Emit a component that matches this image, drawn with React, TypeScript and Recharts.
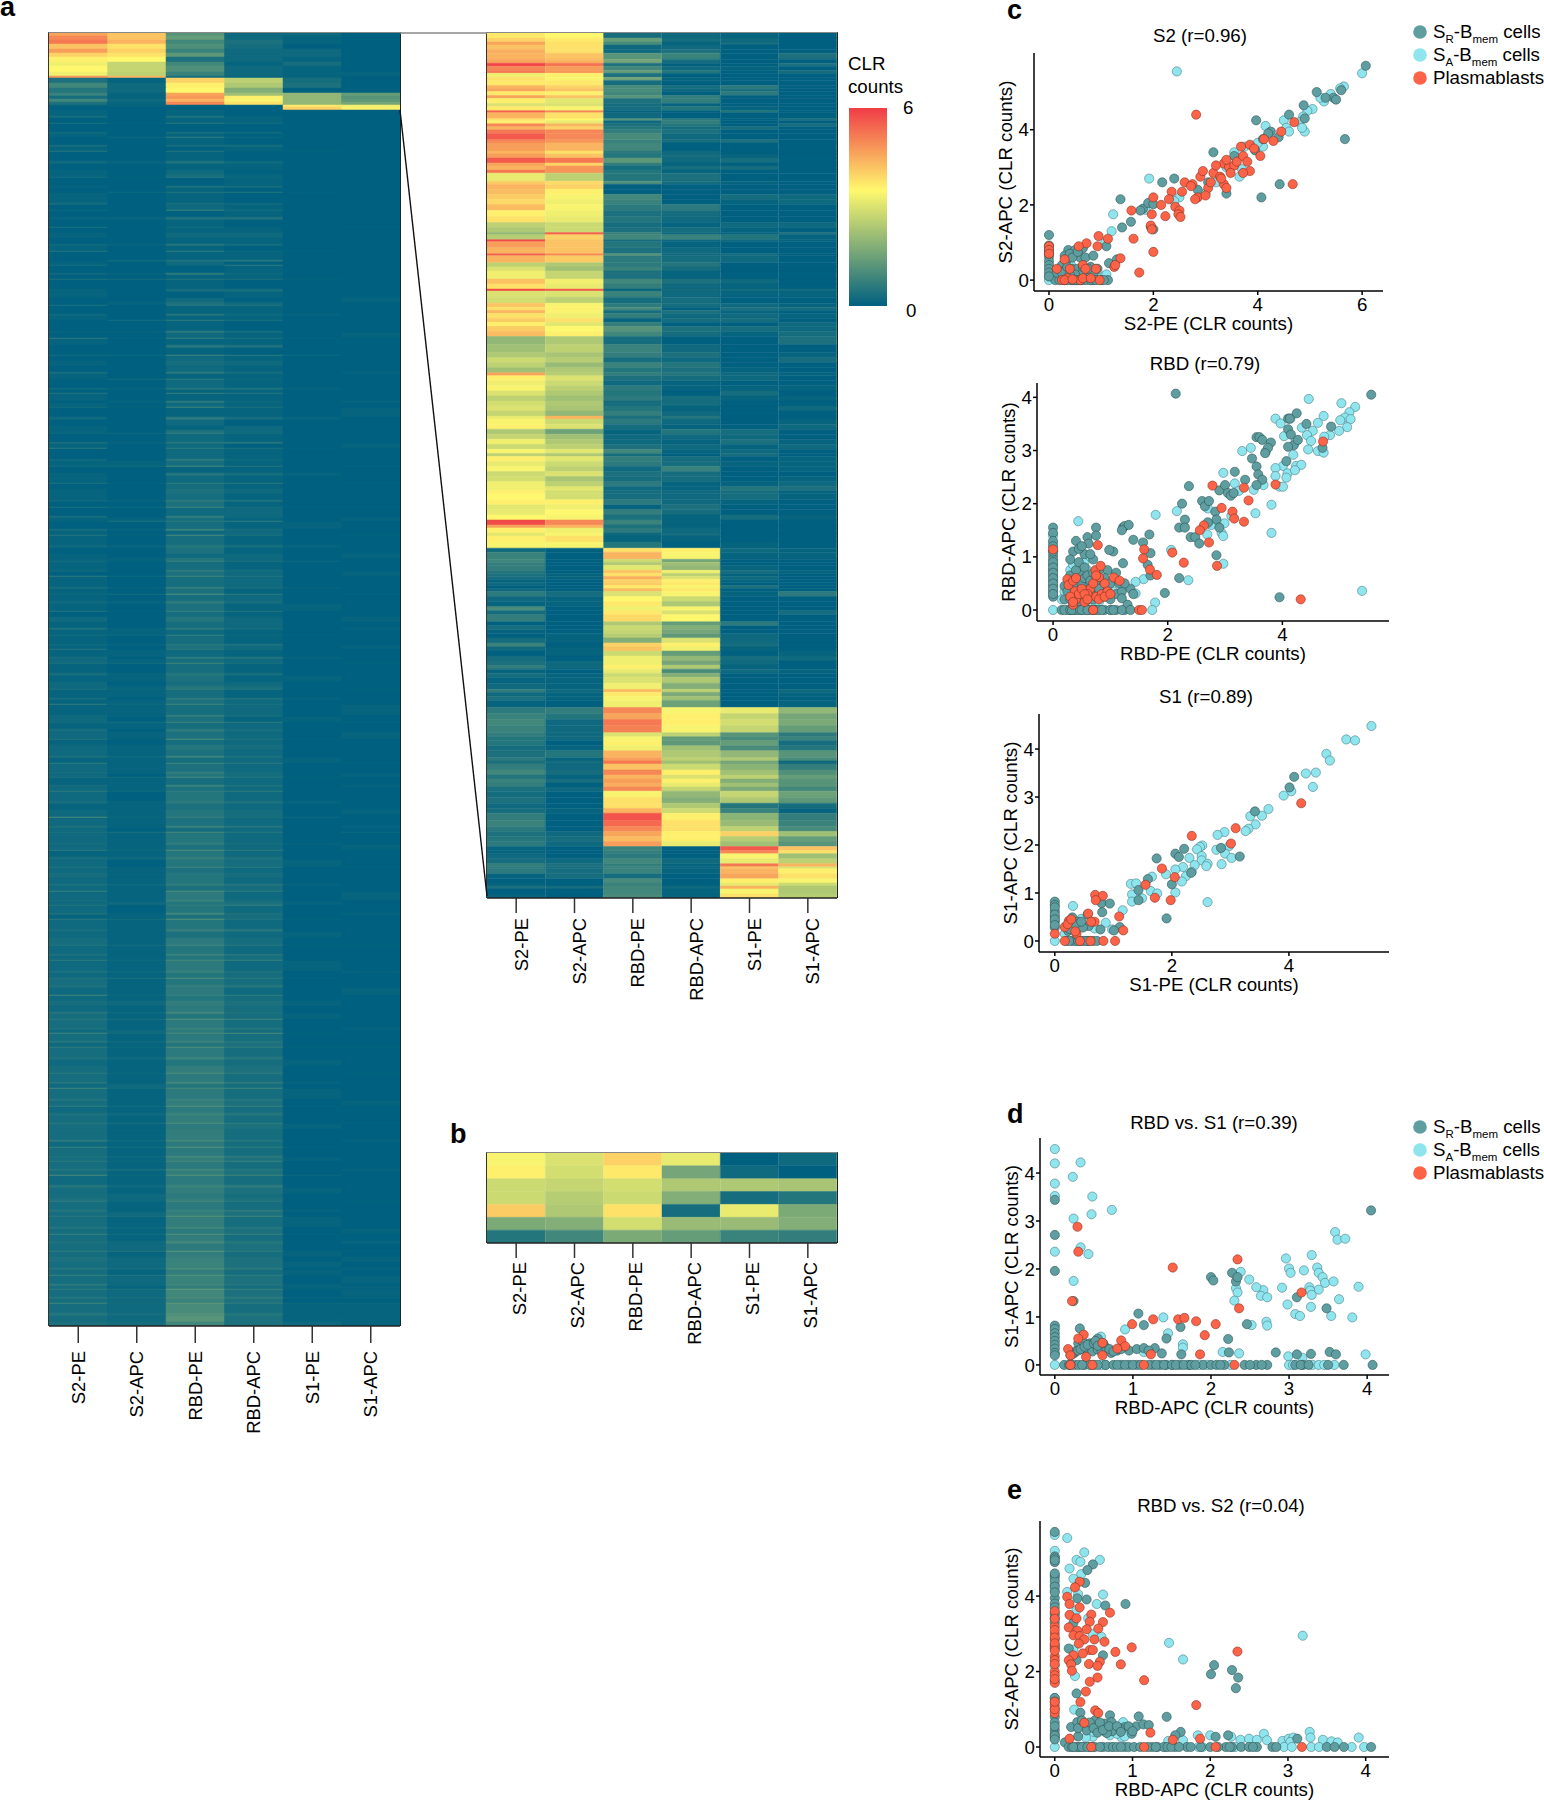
import React from "react";
import { BarChart, Bar, Cell, XAxis, YAxis, ScatterChart, Scatter } from "recharts";

type Pt = number[];
const FONT = '"Liberation Sans", Arial, sans-serif';
const FS = 18.7;

const antigens = ["S2-PE", "S2-APC", "RBD-PE", "RBD-APC", "S1-PE", "S1-APC"];

// Heatmap rows: [cells in the band, then CLR x10 for each antigen]
const mainTopRows: Pt[] = [
  [3,46,42,12,2,2,0],[4,50,42,14,2,1,0],[4,52,44,9,4,1,0],[5,42,38,11,3,0,0],[4,47,40,8,2,2,0],[4,40,38,13,2,2,0],[5,36,35,4,2,1,0],[4,33,27,9,1,3,0],[6,35,27,11,2,1,0],[4,33,26,8,2,1,1],[2,48,44,3,1,1,0],
  [5,4,1,40,26,3,0],[5,9,2,36,24,4,0],[5,5,2,35,18,0,0],
  [3,8,1,46,22,20,14],[3,3,1,48,36,20,12],[3,9,2,44,34,20,13],[3,4,1,50,38,20,16],
  [2,1,1,1,1,37,33],[3,0,0,0,0,40,36],
];
const mainBodyRows: Pt[] = [
  [6,1,0,1,0,0,0],[2,3,0,4,1,0,0],[5,0,0,1,1,0,0],[1,4,1,6,3,0,0],[8,0,0,0,0,0,0],[2,2,0,3,2,0,0],[3,1,0,1,0,0,0],[1,0,2,7,2,0,0],[7,0,0,1,0,0,0],[2,3,0,3,3,0,0],[4,1,0,0,1,0,0],[1,5,0,5,1,1,0],[9,0,0,1,0,0,0],[3,2,1,4,2,0,0],[6,0,0,1,1,0,0],[4,1,0,2,0,0,0],
  [3,1,0,3,1,0,0],[1,3,1,6,2,0,0],[8,0,0,0,1,0,0],[2,1,0,4,3,0,0],[4,0,0,1,0,0,0],[1,0,2,5,5,1,0],[10,1,0,1,0,0,0],[2,3,0,3,2,0,0],[5,0,0,2,1,0,0],[1,2,0,8,3,0,0],[6,0,0,0,1,0,0],[3,1,1,4,4,0,0],[7,0,0,1,0,0,0],[1,4,0,3,1,0,1],[5,0,0,1,1,0,0],[5,1,0,2,2,0,0],
  [6,0,0,1,1,0,0],[2,2,1,5,3,0,0],[5,1,0,1,0,0,0],[1,5,0,7,2,1,0],[8,0,0,1,1,0,0],[2,0,2,4,5,0,0],[3,1,0,2,0,0,0],[1,3,0,2,6,0,0],[7,0,0,0,1,0,0],[2,2,1,6,2,0,0],[4,0,0,1,1,0,0],[1,4,3,5,4,1,0],[9,0,0,1,0,0,0],[3,1,0,3,3,0,0],[6,1,0,0,1,0,0],[4,0,0,2,0,0,1],
  [3,0,1,4,2,0,0],[1,4,0,6,5,0,0],[8,0,0,1,1,0,0],[2,2,0,5,2,1,0],[4,1,0,1,1,0,0],[1,0,3,7,4,0,0],[10,0,0,1,0,0,0],[2,1,1,6,3,0,0],[5,0,0,2,1,0,1],[1,6,1,8,4,1,0],[6,1,0,1,1,0,0],[3,0,0,5,4,0,0],[7,0,0,1,0,0,0],[1,3,2,9,6,2,0],[5,0,0,2,1,0,0],[5,1,0,3,2,0,0],
  [6,0,0,2,1,0,0],[2,3,0,6,3,0,1],[5,1,0,1,1,0,0],[1,1,3,7,2,0,0],[8,0,0,2,1,0,0],[2,2,1,5,4,1,0],[3,0,0,1,1,0,0],[1,5,0,8,5,0,0],[7,1,0,1,1,0,0],[2,0,1,6,2,0,1],[4,1,0,2,1,0,0],[1,3,1,9,4,0,0],[9,0,0,1,1,0,1],[3,2,0,6,3,1,0],[6,0,0,2,0,0,0],[4,1,0,1,2,0,0],
  [3,1,0,4,2,0,0],[1,2,2,8,3,0,0],[8,0,0,2,1,0,0],[2,3,1,5,5,0,0],[4,1,0,2,0,0,1],[1,6,0,7,4,1,0],[10,0,0,2,1,0,0],[2,2,0,6,2,0,0],[5,1,1,3,1,0,0],[1,3,3,10,5,0,1],[6,0,0,1,1,0,0],[3,1,0,5,3,1,0],[7,1,0,2,1,0,0],[1,4,1,7,6,0,1],[5,0,0,3,1,0,0],[5,1,0,4,2,0,0],
  [6,1,0,3,1,0,0],[2,2,1,6,4,0,0],[5,0,0,4,1,0,0],[1,4,2,9,3,1,1],[8,0,0,2,2,0,0],[2,3,0,7,2,0,0],[3,1,1,3,1,0,1],[1,1,4,6,7,0,0],[7,0,0,3,1,1,0],[2,3,1,8,3,0,0],[4,1,0,2,2,0,0],[1,5,1,10,4,0,1],[9,1,0,3,1,0,0],[3,2,1,5,3,1,0],[6,0,0,4,1,0,0],[4,1,0,2,2,0,1],
  [3,1,1,5,2,0,0],[1,3,1,8,4,2,0],[8,1,0,3,1,0,0],[2,2,0,6,3,0,0],[4,0,0,4,2,0,1],[1,6,2,9,5,0,0],[10,1,0,3,2,0,0],[2,3,1,7,3,1,0],[5,1,0,4,1,0,0],[1,2,3,11,6,0,1],[6,1,0,3,2,0,0],[3,2,1,6,3,0,0],[7,1,0,4,1,1,0],[1,5,1,8,5,0,0],[5,0,0,3,1,0,0],[5,2,0,5,2,0,1],
  [6,1,0,3,2,0,0],[2,4,1,6,3,0,1],[5,1,1,2,1,0,0],[1,3,2,8,2,1,0],[8,1,0,3,1,0,0],[2,2,1,5,4,0,0],[3,1,0,4,2,0,1],[1,5,0,7,3,0,0],[7,1,1,2,1,0,0],[2,3,0,6,5,1,0],[4,2,1,3,2,0,0],[1,4,3,9,4,0,1],[9,1,0,3,1,0,0],[3,3,1,5,3,0,0],[6,1,1,4,1,1,0],[4,2,0,3,2,0,0],
  [3,2,1,5,3,0,0],[1,4,2,7,5,0,1],[8,1,1,3,1,0,0],[2,3,0,6,4,1,0],[4,1,1,4,2,0,0],[1,7,2,9,4,0,0],[10,1,1,3,2,0,1],[2,2,1,7,3,0,0],[5,2,0,4,1,1,0],[1,3,3,9,6,0,1],[6,1,1,3,2,0,0],[3,3,0,6,3,0,0],[7,2,1,4,2,0,1],[1,5,1,11,5,1,0],[5,1,0,3,2,0,0],[5,2,1,5,3,0,0],
  [6,2,1,4,2,0,0],[2,4,2,8,4,0,0],[5,1,1,3,2,1,0],[1,7,1,9,6,0,1],[8,2,1,4,2,0,0],[2,3,1,7,3,0,0],[3,2,0,5,3,0,1],[1,4,3,10,5,1,0],[7,1,1,3,2,0,0],[2,3,1,8,4,0,1],[4,2,1,4,2,0,0],[1,6,2,7,7,0,0],[9,2,0,5,2,0,0],[3,3,1,6,4,1,0],[6,1,1,4,2,0,0],[4,2,1,5,3,0,1],
  [3,2,1,5,3,0,0],[1,10,2,8,4,2,0],[8,2,1,4,2,0,0],[2,4,1,8,5,0,1],[4,2,0,3,2,0,0],[1,4,4,10,6,0,2],[10,2,1,5,2,0,0],[2,3,1,7,3,1,0],[5,2,1,4,2,0,1],[1,6,2,11,7,0,0],[6,1,1,5,2,0,0],[3,3,2,7,4,0,0],[7,2,0,5,3,1,0],[1,5,1,9,6,0,1],[5,2,1,4,2,0,0],[5,3,1,5,3,0,0],
  [6,2,1,5,2,0,0],[2,4,2,7,5,1,0],[5,2,1,4,3,0,0],[1,8,1,11,7,0,0],[8,2,1,6,2,0,1],[2,3,1,8,3,0,0],[3,2,2,5,4,1,0],[1,5,1,7,8,0,0],[7,2,0,5,2,0,0],[2,4,1,9,4,0,1],[4,1,1,4,3,0,0],[1,6,3,12,5,1,0],[9,2,1,5,2,0,0],[3,3,1,7,5,0,0],[6,2,1,4,2,1,0],[4,3,1,6,3,0,0],
  [3,3,1,6,3,0,0],[1,5,3,9,6,1,1],[8,2,1,5,2,0,0],[2,4,1,8,5,0,0],[4,2,1,5,3,0,0],[1,7,2,10,8,0,0],[10,2,1,6,2,1,0],[2,4,2,8,4,0,1],[5,2,1,5,3,0,0],[1,5,4,11,6,1,0],[6,3,1,5,3,0,0],[3,4,1,7,5,0,0],[7,2,1,6,2,0,1],[1,9,2,8,7,0,0],[5,2,1,5,3,0,0],[5,3,2,7,4,1,0],
  [6,2,1,6,3,0,0],[2,5,2,9,4,0,0],[5,3,1,5,3,1,0],[1,6,4,12,9,0,0],[8,3,1,6,3,0,0],[2,4,1,8,5,0,1],[3,2,2,6,3,0,0],[1,9,3,10,10,1,0],[7,3,1,6,3,0,0],[2,5,2,8,5,0,0],[4,2,1,5,4,0,0],[1,7,2,11,7,1,1],[9,3,1,6,3,0,0],[3,4,2,8,5,0,0],[6,2,1,5,3,1,0],[4,3,1,7,4,0,0],
  [3,3,1,7,4,0,0],[1,6,2,11,7,0,1],[8,3,1,6,3,0,0],[2,5,1,9,6,1,0],[4,2,2,5,3,0,0],[1,9,3,10,9,0,0],[10,3,1,6,3,1,0],[2,5,1,8,5,0,0],[5,3,1,7,4,0,1],[1,7,3,12,8,1,0],[6,2,1,6,3,0,0],[3,4,2,8,5,0,0],[7,3,1,7,3,0,0],[1,6,4,11,7,0,1],[5,3,1,6,4,1,0],[5,3,1,7,3,0,0],
  [6,3,1,7,3,0,0],[2,6,2,9,5,0,1],[5,2,1,6,3,0,0],[1,8,3,12,7,1,0],[8,3,1,6,3,0,0],[2,4,2,9,6,0,0],[3,3,1,7,4,1,0],[1,6,2,10,8,0,0],[7,3,1,6,3,0,0],[2,5,3,9,5,0,1],[4,3,1,7,4,0,0],[1,10,2,12,9,2,0],[9,2,1,6,3,0,0],[3,5,2,8,6,0,0],[6,3,1,7,4,1,0],[4,3,2,6,3,0,0],
  [3,4,2,7,4,0,0],[1,7,2,10,6,0,1],[8,3,1,6,3,0,0],[2,5,1,8,6,1,0],[4,3,2,7,4,0,0],[1,6,4,12,9,0,0],[10,3,1,7,3,1,0],[2,5,2,9,5,0,0],[5,3,1,6,4,0,1],[1,8,3,11,8,1,0],[6,3,1,7,3,0,0],[3,4,2,9,5,0,1],[7,3,2,6,4,0,0],[1,7,5,13,7,1,1],[5,3,1,7,3,1,0],[5,4,2,8,4,0,1],
  [6,3,2,8,4,1,0],[2,5,3,10,6,0,1],[5,3,1,7,3,1,0],[1,8,5,12,7,1,0],[8,3,2,8,4,0,1],[2,6,2,9,5,1,0],[3,3,1,7,3,1,1],[1,7,4,14,8,1,0],[7,3,2,9,4,0,1],[2,5,3,10,6,1,1],[4,3,2,8,4,0,0],[1,9,3,13,7,2,2],[9,3,2,10,3,1,1],[3,5,3,11,5,1,1],[6,3,2,12,4,1,1],[4,4,3,9,4,2,1],
];
const insetRows: Pt[] = [
  [5,37,35,3,2,1,0],[4,40,37,14,3,2,0],[3,46,38,10,1,3,0],[4,42,38,2,2,0,0],[4,45,38,2,4,0,0],[6,44,42,12,8,0,4],[4,46,44,16,3,0,0],[3,59,53,4,0,0,4],[4,50,47,9,2,1,0],[3,52,48,14,5,0,3],
  [4,33,36,4,0,0,0],[3,38,34,16,1,0,0],[5,37,37,3,0,0,0],[3,44,40,10,3,6,0],[3,46,42,10,2,4,0],[4,37,36,9,0,6,0],[3,46,42,12,7,0,0],[5,36,31,4,7,0,0],[3,30,30,3,1,0,0],[4,37,34,3,5,1,0],
  [2,55,50,1,0,5,0],[6,44,38,2,0,0,0],[2,38,35,12,6,0,4],[3,36,32,2,7,0,0],[3,50,44,4,5,0,3],[3,44,40,5,3,3,0],[4,52,50,7,4,0,0],[6,56,50,10,2,0,0],[3,50,48,8,3,4,0],[8,47,44,9,0,0,0],
  [3,44,38,6,2,0,0],[4,47,42,5,3,1,0],[5,56,52,13,2,3,0],[3,46,40,7,1,0,0],[4,44,48,3,3,3,0],[3,52,48,5,1,0,0],[8,32,26,5,4,0,0],[3,41,39,11,3,1,0],[5,44,40,0,0,0,0],[5,43,36,0,0,0,0],
  [5,41,34,9,0,3,2],[5,39,33,8,0,1,2],[6,43,34,6,6,0,0],[6,36,33,4,3,0,0],[6,38,32,5,2,0,0],[5,26,28,3,1,2,2],[5,24,28,4,3,1,0],[2,20,55,8,2,1,4],[5,25,40,9,8,5,1],[2,58,42,3,2,2,1],
  [6,47,42,5,1,0,0],[6,44,42,4,2,0,0],[2,55,50,12,2,3,0],[7,44,41,6,3,2,0],[4,26,24,6,5,0,0],[4,30,22,8,3,0,0],[8,33,27,4,1,0,0],[5,42,33,9,4,2,0],[5,38,32,7,2,1,0],[2,58,56,1,3,3,3],
  [6,30,30,8,2,1,1],[6,29,26,3,3,0,0],[4,42,34,6,3,2,1],[3,38,36,10,0,4,3],[3,44,34,3,4,1,0],[5,38,33,7,2,2,1],[4,41,38,1,3,3,0],[4,36,31,7,0,0,2],[5,41,35,12,4,3,2],[5,43,36,9,3,1,3],
  [8,20,24,3,0,0,4],[8,22,26,8,2,0,0],[5,24,23,7,4,0,1],[5,28,25,3,2,0,3],[5,26,21,8,5,0,0],[5,22,24,5,4,1,0],[3,46,25,7,5,2,1],[5,36,30,4,3,2,0],[5,33,28,2,1,0,0],[5,34,26,6,1,1,1],
  [5,30,24,5,0,3,0],[5,26,22,6,3,1,1],[5,29,24,3,3,0,0],[5,30,23,5,1,0,2],[5,27,20,7,2,0,0],[3,32,44,4,5,0,0],[5,34,28,6,2,0,1],[5,36,30,3,1,0,2],[5,24,15,1,5,3,0],[5,27,22,2,2,2,0],
  [5,33,24,2,1,4,1],[5,28,26,4,2,1,2],[4,34,31,9,1,2,0],[3,26,24,3,0,3,0],[5,36,31,7,3,0,1],[5,32,28,6,3,1,1],[5,34,26,2,8,0,1],[5,28,30,4,3,0,0],[5,29,23,3,3,0,1],[5,33,26,6,1,1,2],
  [4,33,31,2,1,5,4],[3,36,29,3,2,3,1],[6,35,29,3,2,3,1],[5,36,36,6,2,1,0],[5,31,33,1,4,0,0],[5,32,35,7,3,0,0],[5,35,34,4,1,3,1],[5,58,50,8,1,0,0],[3,46,44,4,1,0,0],[5,36,33,6,2,0,0],[3,31,34,2,3,0,0],[6,36,38,1,1,0,0],[6,34,34,5,0,1,0],
  [4,2,0,38,36,2,1],[7,8,0,44,34,1,1],[3,9,0,28,16,0,0],[3,7,0,24,22,0,0],[5,7,0,31,20,1,0],[3,5,0,42,33,3,1],[3,4,1,38,26,1,0],[3,3,1,45,30,2,0],[3,1,0,40,36,1,0],[3,2,0,41,37,0,0],
  [3,0,0,37,34,4,0],[3,2,0,43,37,0,0],[5,6,3,30,34,1,6],[5,2,1,35,28,0,0],[5,1,1,37,24,0,0],[4,10,0,33,34,0,0],[4,3,0,37,30,0,3],[7,7,0,39,35,0,0],[4,0,0,24,14,6,0],[4,3,0,28,18,0,0],
  [4,1,0,27,16,0,0],[4,0,1,25,13,2,0],[5,3,1,18,30,2,0],[4,8,0,40,36,3,0],[4,2,1,42,33,1,0],[5,0,1,28,14,0,1],[5,3,0,33,20,3,2],[4,4,2,33,16,2,0],[4,7,2,36,24,1,0],[4,1,0,32,10,2,1],
  [4,3,1,28,18,0,0],[6,1,1,30,24,0,0],[6,2,1,33,18,0,0],[3,7,2,43,26,0,2],[4,2,1,37,17,0,1],[4,4,1,34,22,0,0],[7,1,0,33,15,0,1],
  [6,6,7,50,34,32,20],[6,8,5,46,36,27,16],[6,9,2,52,36,29,17],[7,8,2,51,34,27,14],[4,7,2,30,26,12,6],[4,5,2,34,14,10,8],[5,5,0,36,13,14,3],[5,3,1,33,22,10,5],[7,4,5,44,24,20,12],[3,6,1,47,26,24,10],
  [3,4,3,52,22,16,2],[6,7,2,42,28,19,7],[5,9,3,50,36,22,11],[4,5,1,44,30,26,14],[4,8,3,47,36,18,12],[4,7,0,45,32,22,12],[4,4,2,50,27,17,9],[6,3,0,34,20,27,15],[6,4,0,38,18,24,13],[5,2,0,38,24,5,3],
  [5,3,1,44,28,8,1],[7,7,0,57,36,19,7],[6,8,0,54,38,21,8],[5,6,0,50,38,26,10],[5,4,2,46,36,40,22],[5,5,3,43,36,25,14],[5,6,2,47,32,22,12],
  [4,1,0,8,0,56,42],[3,1,0,7,0,50,38],[5,2,0,6,0,34,22],[5,3,2,9,2,32,26],[3,7,4,7,1,52,44],[2,6,3,8,1,42,30],[5,6,3,8,1,44,36],[5,1,3,3,0,46,38],[4,0,0,10,0,36,34],[3,1,0,8,0,32,28],[3,4,3,9,2,44,24],[5,0,0,9,1,34,24],[4,1,0,10,1,38,25],
];
const clusterRows: Pt[] = [
  [1,34,30,40,32,0,2],[1,36,29,37,16,2,0],[1,28,27,29,24,24,23],[1,28,25,28,18,3,5],[1,41,24,38,3,32,17],[1,17,18,29,21,21,18],[1,5,9,17,14,8,7],
];

// Scatter values per panel and population: [x, y]
const c1SR: Pt[] = [[6.07,5.7],[5.67,3.75],[5.13,5],[5.45,4.85],[5.5,4.8],[5.6,5.05],[5.3,4.85],[4.88,4.65],[4.9,4.3],[4.6,4.4],[3.97,4.25],[4.25,3.95],[4.2,3.9],[4.4,3.8],[4.1,3.75],[3.15,3.4],[3.55,3.3],[3.95,3.45],[2.4,2.7],[2.17,2.6],[3.05,2.6],[2.85,2.4],[3.4,2.3],[4.07,2.2],[4.42,2.55],[1.37,2.15],[1.8,1.9],[1.9,2.05],[1.75,1.85],[2,2.02],[1.57,1.55],[1.4,1.4],[2,1.35],[1.95,1.42],[1.1,.9],[0,1.2],[0,.92],[0,.8],[0,.62],[0,.5],[0,.4],[0,.3],[0,.2],[.37,.8],[.3,.65],[.35,.55],[.5,.8],[.65,.85],[.6,.6],[.7,.6],[.85,.65],[.25,.4],[.45,.3],[.3,.25],[.55,.3],[.8,.35],[.93,.3],[.65,.2],[.85,.15],[1.15,.45],[1.3,.55],[.5,.15],[.2,.1],[.12,0],[.2,0],[.3,0],[.42,0],[.45,0],[.55,0],[.65,0],[.72,0],[.85,0],[1,0],[1.13,0],[.15,.2],[.25,.2],[.35,.35],[.4,.7],[.45,.6],[.55,.75],[.4,.15],[.65,.35],[.75,.3],[.35,0],[.5,0],[.6,0],[.8,0],[.9,0],[1.05,0],[0,.7],[0,.1]];
const c1SA: Pt[] = [[6,5.5],[5.65,5.15],[5.58,5.1],[5.4,4.95],[5.27,4.75],[5.2,4.85],[5.05,4.55],[4.95,4.5],[4.87,4.35],[4.8,4.2],[4.9,3.95],[4.85,4.05],[4.5,4.25],[4.55,4.05],[4.6,3.95],[4.15,4.1],[4.1,3.55],[4,3.65],[3.75,3.55],[3.55,3.4],[3.7,2.95],[3.65,2.75],[3.4,3],[3.2,2.6],[2.45,5.55],[1.92,2.7],[1.23,1.75],[1.2,1.3],[1.08,1],[1.85,1.87],[2.5,2.2],[2.4,2.1],[3,2.3],[.65,.3],[.42,.4],[.55,.2],[.75,.15],[1.05,.1],[0,0],[.3,0],[.5,0],[.8,0],[1.1,.15],[.35,.15],[.9,.1],[.2,.05],[.45,.1],[.6,.1],[.7,.05],[.85,.05],[0,.1],[.4,.05]];
const c1PB: Pt[] = [[2.82,4.4],[4.67,2.55],[2,2.2],[2.15,2],[1.97,1.75],[2.23,1.7],[1.58,1.85],[2.35,2.35],[2.3,2.15],[2.42,1.95],[2.5,1.85],[2.48,1.75],[2.52,1.68],[1.62,1.1],[2,.75],[1.73,.2],[1.95,1.45],[1.97,1.35],[.95,1.17],[1.13,1.1],[.93,.9],[.72,.98],[.57,.9],[1.37,.58],[1.25,.35],[1.27,.4],[2.6,2.6],[2.55,2.35],[2.75,2.55],[2.85,2.2],[2.8,2.15],[2.9,2.75],[2.95,2.9],[3.05,2.45],[3,2.25],[3.1,2.6],[3.15,2.85],[3.28,2.75],[3.35,2.55],[3.4,2.45],[3.3,2.7],[3.35,3.1],[3.45,3],[3.55,3.05],[3.48,2.85],[3.6,3.15],[3.72,3.3],[3.8,3.15],[3.85,2.9],[3.72,2.85],[3.68,3.55],[3.85,3.6],[3.93,3.5],[4.05,3.3],[4.12,3.75],[4.3,3.7],[4.45,3.95],[4.7,4.2],[2.72,2.5],[3.2,3.05],[3.4,3.2],[0,.9],[0,.8],[0,.7],[.15,.3],[.25,0],[.35,.05],[.6,0],[.65,.05],[.97,0],[.65,.4],[.9,.3],[.3,.55],[.4,.3],[.3,0],[.45,.02],[.7,.3],[.8,.05]];

const c2SR: Pt[] = [[2.14,4.07],[5.55,4.05],[4.25,3.7],[4.1,3.6],[4.13,3.6],[4.42,3.5],[4.85,3.45],[4.1,3.4],[4.15,3.3],[3.55,3.25],[3.6,3.25],[3.65,3.2],[4.2,3.1],[3.8,3.15],[4.27,3.2],[4.1,3.07],[3.75,3.05],[3.7,2.95],[4.7,3.05],[3.47,2.85],[4.07,2.8],[3.55,2.7],[3.58,2.55],[3.17,2.6],[3.35,2.45],[3.65,2.45],[3.55,2.35],[2.37,2.33],[2.9,2.25],[3,2.35],[3.05,2.2],[3.1,2.15],[3.15,2.2],[2.25,2],[2.6,2.05],[2.65,1.95],[2.72,2.05],[2.83,1.85],[2.85,1.7],[2.3,1.7],[2.2,1.55],[2.3,1.55],[2.4,1.37],[2.48,1.37],[2.55,1.25],[2.7,1.65],[2.9,1.55],[2.85,1.03],[2.2,.6],[3.95,.24],[1.22,1.55],[1.25,1.58],[1.32,1.6],[1.2,1.5],[1.68,1.42],[1.4,1.32],[1.57,1.27],[1.7,1.07],[1.65,.85],[1.7,.65],[1.95,.32],[1.05,1.1],[.98,1.13],[1.22,.88],[.75,1.55],[.6,1.37],[.75,1.4],[.4,1.3],[.62,1.25],[.35,1.1],[.55,1.05],[.7,.95],[.3,.95],[.5,.7],[.95,.75],[1.1,.7],[.3,.65],[.6,.5],[.85,.55],[1.1,.3],[1.2,.35],[1.35,.4],[1.4,.3],[.2,.45],[.45,.35],[.75,.25],[1.2,.22],[0,1.55],[0,1.45],[0,1.02],[0,.95],[0,.85],[0,.75],[0,.65],[0,.55],[0,.45],[0,.35],[0,.25],[.15,0],[.25,0],[.38,0],[.42,0],[.55,0],[.65,0],[.75,0],[.9,0],[1.1,0],[1.25,0],[1.3,.1],[.2,.2],[.25,.35],[.3,.2],[.35,.55],[.35,.45],[.4,.6],[.4,.75],[.45,.15],[.45,.9],[.5,.45],[.5,.25],[.55,.6],[.55,.8],[.6,.2],[.6,.65],[.65,.35],[.65,.55],[.7,.7],[.7,.2],[.75,.55],[.8,.35],[.8,.75],[.9,.4],[.9,.6],[.95,.35],[1,.5],[1,.2],[1.15,.5],[1.25,.5],[.45,1.15],[.5,1.2],[.65,1.05],[.8,.4],[0,1.3],[0,1.2],[0,1.1],[0,.9],[0,.8],[0,.7],[0,.6],[0,.5],[0,.4],[0,.3],[.2,0],[.3,0],[.33,0],[.47,0],[.5,0],[.6,0],[.7,0],[.8,0],[.85,0],[1,0],[1.05,0],[1.2,0],[1.35,0]];
const c2SA: Pt[] = [[4.46,3.97],[5.03,3.89],[5.27,3.82],[5.17,3.72],[5.09,3.62],[5.01,3.57],[5.19,3.59],[4.72,3.65],[5.13,3.44],[4.99,3.37],[4.83,3.29],[4.73,3.26],[4.62,3.52],[4.53,3.37],[4.43,3.29],[4.34,3.43],[4.23,3.17],[4.5,3.18],[4.45,3.02],[4.62,2.99],[4.72,2.96],[3.88,3.6],[3.97,3.51],[4.14,3.6],[4.03,3.27],[3.3,2.99],[3.45,3.05],[3.71,2.98],[4.19,2.92],[4.01,2.71],[3.88,2.67],[4.09,2.57],[3.88,2.52],[4.07,2.49],[4.24,2.71],[4.33,2.73],[4.22,2.63],[3.95,2.32],[4.01,2.32],[2.97,2.58],[3.17,2.38],[3.5,2.26],[3.67,2.35],[3.24,2.24],[3.81,1.98],[3.53,1.82],[3.81,1.45],[3.11,1.77],[2.99,1.63],[2.94,1.45],[2.97,1.39],[2.97,.87],[2.69,1.42],[2.76,1.6],[2.7,1.63],[2.7,1.91],[2.16,1.86],[1.79,1.79],[.44,1.67],[2.06,1.13],[2.36,.56],[5.39,.36],[1.58,.58],[1.44,.53],[1.78,.14],[1.73,0],[1.44,.31],[.45,.85],[.55,.9],[.3,.75],[.65,1],[.6,.75],[.78,.58],[.25,.3],[.55,.45],[.9,.25],[.2,.25],[1.05,.35],[.3,0],[.5,0],[.7,0],[1,0],[.15,.2],[0,1.4],[0,1.25],[0,1.1],[0,0],[.35,.85],[.4,.55],[.5,.6],[.65,.2],[.3,.45],[.45,.2],[.75,.1],[.8,.15],[.2,.35],[.55,.1],[.35,0],[.6,0]];
const c2PB: Pt[] = [[2.78,2.34],[3.33,2.3],[3.88,2.36],[4.71,3.17],[3.41,2.06],[2.94,1.92],[3.13,1.85],[3.16,1.72],[3.33,1.66],[2.63,1.59],[2.56,1.5],[2.72,1.27],[2.08,1.08],[2.28,.89],[2.86,.83],[4.32,.2],[1.59,1.14],[1.57,.97],[1.69,.76],[1.81,.66],[.78,1.22],[.74,.75],[.83,.83],[1.06,.61],[1.16,.55],[.25,.58],[.27,.47],[.38,.35],[.4,.2],[.55,.15],[.75,.25],[.85,.3],[.9,.5],[.65,.4],[.8,.62],[.45,.3],[.6,.3],[0,1.14],[1.5,0],[1.55,0],[.7,0],[.35,.1],[.3,.25],[.35,.55],[.5,.4],[.55,.3],[.6,.2],[.7,.5],[.75,.65],[.8,.2],[.95,.35],[.9,.25],[1,.3],[.4,.6],[.35,.15]];

const c3SA: Pt[] = [[5.41,4.48],[4.98,4.2],[5.13,4.18],[4.64,3.9],[4.7,3.76],[4.29,3.49],[4.46,3.51],[4.41,3.21],[4.04,3.12],[3.91,3.03],[3.65,2.75],[3.54,2.61],[3.34,2.6],[3.43,2.43],[3.31,2.34],[3.26,2.29],[2.9,2.27],[2.78,2.21],[2.98,1.98],[2.76,1.9],[2.91,1.82],[3.02,1.73],[2.85,1.6],[2.61,.81],[2.52,1.99],[2.48,1.96],[2.43,1.91],[2.3,1.73],[2.51,1.77],[2.51,1.68],[2.61,1.61],[2.59,1.56],[2.39,1.58],[2.19,1.54],[2.06,1.49],[1.9,1.39],[2.34,1.44],[2.24,1.35],[2.17,1.24],[2.06,1.01],[1.66,1.34],[1.3,1.19],[1.39,1.2],[1.32,.97],[1.32,.82],[1.49,.89],[1.64,1.04],[1.75,.99],[1.16,.64],[.31,.73],[.87,.38],[.98,.24],[.45,.46],[.31,.29],[.68,.26],[.17,.15],[0,0]];
const c3SR: Pt[] = [[4.09,3.42],[4.01,3.2],[3.42,2.7],[2.84,1.94],[3.16,1.76],[2.21,1.92],[2.06,1.82],[2.12,1.75],[1.74,1.72],[2.33,1.42],[1.59,1.29],[2,1.18],[1.43,1.06],[1.43,.85],[1.91,.47],[.8,.79],[.94,.78],[.81,.6],[.56,.55],[.3,.49],[.4,.4],[.58,.31],[.48,.28],[.23,.21],[.78,.24],[1.11,.29],[1.01,.22],[0,.82],[0,.75],[0,.62],[0,.5],[0,.4],[0,.28],[.2,0],[.3,0],[.35,0],[.45,0],[.5,0],[.57,0],[.65,0],[.72,0],[.25,0],[.4,0],[.55,0],[.25,.25],[.35,.35],[.45,.4],[0,.7],[0,.55],[0,.45],[0,.33]];
const c3PB: Pt[] = [[4.21,2.87],[3.09,2.35],[2.34,2.19],[3.01,2.03],[1.83,1.51],[2.05,1.33],[1.55,1.17],[1.71,.9],[1.98,.85],[.69,.96],[.82,.94],[.7,.85],[1.1,.51],[1.17,.22],[1.03,0],[.83,0],[.61,0],[.57,.57],[.24,.42],[.17,.29],[.68,.4],[.37,.15],[0,.15],[.17,0],[.43,0],[.22,.35],[.35,.2],[.62,.4],[.28,.45]];

const dSA: Pt[] = [[0,4.5],[0,4.2],[0,3.78],[0,3.52],[.33,4.22],[.23,3.92],[.48,3.51],[.47,3.14],[.73,3.23],[.24,3.05],[.33,2.45],[.43,2.31],[0,2.36],[.24,1.75],[3.59,2.77],[3.62,2.61],[3.72,2.63],[3.29,2.29],[2.96,2.22],[3,2.01],[3.02,1.92],[3.19,1.97],[3.36,2.03],[3.38,1.92],[3.43,1.83],[3.46,1.71],[3.57,1.74],[3.89,1.63],[3.64,1.37],[3.38,1.57],[3.26,1.62],[3.27,1.55],[3.29,1.46],[2.91,1.61],[2.67,1.56],[2.58,1.62],[2.64,1.44],[2.72,1.41],[2.98,1.26],[3.08,1.06],[3.14,1.02],[3.28,1.21],[3.54,1.02],[3.81,.99],[2.71,.9],[2.72,.82],[2.52,.83],[2.38,1.94],[2.49,1.78],[2.32,1.6],[2.34,1.51],[2.3,1.34],[1.39,.99],[1.45,.66],[1.64,.43],[1.64,.36],[.9,.74],[.59,.59],[3.98,.22],[2.99,.18],[3.17,.15],[2.15,.27],[2.36,.24],[1.14,.27],[0,0],[.6,0],[.65,0],[1.5,0],[1.7,0],[1.85,0],[1.95,0],[2.25,0],[3,0],[3.05,0],[3.3,0],[3.38,0],[3.45,0],[3.58,0]];
const dSR: Pt[] = [[4.05,3.22],[0,3.44],[0,2.71],[0,1.96],[.24,1.33],[2,1.83],[2.03,1.76],[2.27,1.92],[2.32,1.74],[2.34,1.83],[3.1,1.41],[3.48,1.18],[1.07,1.07],[1.14,.83],[1.61,.79],[1.43,.55],[2.46,.85],[2.22,.54],[.32,.76],[0,.82],[0,.75],[0,.66],[0,.58],[0,.5],[0,.42],[0,.34],[0,.25],[0,.2],[2.83,.26],[3.1,.22],[3.28,.23],[3.52,.27],[3.6,.22],[2.23,.26],[1.62,.22],[1.37,.24],[.2,.2],[.25,.25],[.28,.3],[.3,.45],[.35,.5],[.4,.28],[.45,.45],[.48,.28],[.55,.55],[.55,.32],[.6,.28],[.65,.37],[.72,.25],[.8,.3],[.95,.3],[1.05,.33],[1.14,.35],[1.28,.35],[1.2,.3],[.12,0],[.18,0],[.25,0],[.3,0],[.38,0],[.45,0],[.65,0],[.75,0],[.85,0],[.95,0],[1.05,0],[1.25,0],[1.35,0],[1.43,0],[1.6,0],[1.72,0],[1.9,0],[2,0],[2.07,0],[2.17,0],[2.43,0],[2.58,0],[2.72,0],[3.08,0],[3.18,0],[3.7,0],[4.07,0],[.2,0],[.35,0],[.5,0],[.55,0],[.8,0],[.9,0],[1,0],[1.1,0],[1.2,0],[1.3,0],[1.4,0],[1.5,0],[1.55,0],[1.65,0],[1.75,0],[1.8,0],[2.12,0],[2.5,0],[2.65,0],[3.15,0],[3.25,0],[3.5,0],[.22,.22],[.3,.3],[.33,.33],[.38,.38],[.42,.42],[.5,.45],[.52,.5],[.55,.4],[.62,.45],[.7,.33],[.75,.28],[.85,.33]];
const dPB: Pt[] = [[.29,2.88],[.3,2.36],[1.51,2.03],[2.34,2.2],[3.16,1.51],[.22,1.33],[2.36,1.18],[.99,.85],[1.26,.95],[1.58,.95],[1.66,.98],[1.81,.91],[2.06,.85],[1.92,.62],[1.86,.22],[.85,.51],[.9,.39],[.37,.63],[.3,.55],[.17,.33],[.2,.2],[.4,.17],[.61,.2],[.61,.46],[.8,.34],[1.23,.22],[1.14,0],[.48,0],[.2,0],[2.3,0]];

const eSR: Pt[] = [[0,5.7],[0,5.05],[0,4.9],[0,4.5],[0,4.4],[0,3.95],[0,3.8],[0,3.5],[0,2.6],[0,1.3],[0,.8],[0,.65],[0,.45],[0,.35],[0,.25],[.49,4.84],[.42,4.69],[.39,4.35],[.41,3.91],[.29,3.94],[.65,3.75],[.91,3.79],[.24,3.29],[.62,2.43],[.18,2.61],[.28,2.3],[.28,1.42],[2.05,2.17],[2.01,1.93],[2.28,2.04],[2.36,1.84],[2.33,1.56],[.33,.91],[.71,.84],[1.08,.81],[1.44,.8],[.21,.53],[.29,.66],[.41,.44],[.52,.71],[.64,.62],[.73,.66],[.74,.42],[.67,.37],[.9,.53],[.84,.49],[1.05,.55],[1.14,.6],[1.21,.58],[.99,.35],[1.62,.4],[1.55,.31],[2.23,.31],[2.07,.27],[3.12,.22],[.3,.28],[.13,.12],[.18,0],[.22,0],[.28,0],[.32,0],[.38,0],[.45,0],[.62,0],[.68,0],[.9,0],[.95,0],[1.02,0],[1.25,0],[1.32,0],[1.4,0],[1.55,0],[1.7,0],[1.75,0],[1.88,0],[2,0],[2.2,0],[2.28,0],[2.4,0],[2.6,0],[2.8,0],[2.85,0],[3.5,0],[3.6,0],[3.72,0],[4.07,0],[.24,0],[.35,0],[.42,0],[.5,0],[.58,0],[.75,0],[.8,0],[.85,0],[1.1,0],[1.2,0],[1.3,0],[1.45,0],[1.5,0],[1.6,0],[2.1,0],[2.25,0],[2.5,0],[2.55,0],[.3,.5],[.35,.7],[.45,.65],[.5,.5],[.58,.65],[.55,.38],[.62,.45],[.7,.55],[.8,.55],[.85,.4],[.95,.55],[1,.42],[0,5],[0,4.95],[0,4.6],[0,4.25],[0,4.1],[0,3.7],[0,3.4],[0,3.3],[0,2.7],[0,1.2],[0,1],[0,.55],[0,.3],[0,.2]];
const eSA: Pt[] = [[0,5.62],[.16,5.54],[0,5.2],[0,4.55],[0,4.3],[0,4.15],[0,3.55],[0,2.15],[0,1.75],[0,1.3],[0,0],[.38,5.16],[.28,4.96],[.33,4.91],[.58,4.96],[.19,4.73],[.34,4.58],[.24,4.46],[.16,4.11],[.3,4.05],[.62,4.04],[.54,3.79],[.28,3.63],[.43,3.41],[3.19,2.95],[.49,2.99],[.6,2.92],[.24,2.58],[1.47,2.76],[1.65,2.32],[.26,1.88],[.25,.99],[.88,.66],[.56,.53],[.44,.4],[.49,.27],[.71,.31],[.86,.25],[1.46,.16],[1.65,.18],[1.84,.31],[2,.31],[2.27,.27],[2.39,.19],[2.5,.22],[2.6,.19],[2.69,.35],[2.73,.18],[2.93,.16],[3.01,.22],[3.07,.25],[3.03,.13],[3.28,.4],[3.29,.25],[3.45,.19],[3.56,.15],[3.64,.12],[3.91,.25],[.3,0],[.52,0],[.72,0],[1.42,0],[1.85,0],[1.9,0],[2.32,0],[2.95,0],[3.05,0],[3.3,0],[3.4,0],[3.82,0],[3.98,0],[.4,.25],[.5,.4],[.55,.55],[.65,.4],[.8,.35],[.9,.28]];
const ePB: Pt[] = [[0,3.6],[0,3.2],[0,3],[0,2.85],[0,2.65],[0,2.4],[0,2],[0,1.7],[0,1.1],[0,.9],[.32,4.38],[.26,4.23],[.16,3.98],[.19,3.79],[.32,3.7],[.71,3.56],[.47,3.51],[.19,3.5],[.28,3.41],[.62,3.31],[.45,3.32],[.18,3.17],[.56,3.14],[.41,3.12],[.29,3.08],[.24,2.96],[.32,2.94],[.64,2.79],[.51,2.85],[.38,2.85],[.31,2.74],[.99,2.64],[.78,2.52],[2.35,2.53],[.45,2.57],[.49,2.57],[.36,2.48],[.24,2.43],[.44,2.2],[.18,2.3],[.21,2.19],[.22,2.02],[.58,2.26],[.55,2.15],[.85,2.19],[1.15,1.77],[.55,1.84],[.45,1.73],[.4,1.47],[.33,1.19],[1.82,1.11],[.52,.97],[.56,.9],[.38,.64],[1.23,.38],[1.87,.22],[1.52,.19],[.19,.22],[.47,0],[1.15,0],[2.07,0],[3.18,0],[0,3.4],[0,3.1],[0,2.9],[0,2.75],[0,2.55],[0,2.3],[0,2.2],[0,1.9],[0,1.8],[0,1],[0,1.2]];

const SR_FILL = "#5F9EA0";
const SA_FILL = "#8EE5EE";
const PB_FILL = "#FF6347";

// colour scale of the heatmaps
const SCALE_STOPS: [number, number[]][] = [[0,[0,96,128]],[3.5,[255,248,110]],[6,[240,60,70]]];
function clrColor(v: number): string {
  const x = Math.max(0, Math.min(6, v));
  const [a, b] = x <= 3.5 ? [SCALE_STOPS[0], SCALE_STOPS[1]] : [SCALE_STOPS[1], SCALE_STOPS[2]];
  const t = (x - a[0]) / (b[0] - a[0]);
  const c = a[1].map((q, i) => Math.round(q + (b[1][i] - q) * t));
  return `rgb(${c[0]},${c[1]},${c[2]})`;
}

function Heatmap({ rows, left, top, width, height, tickLen, labelGap, labelShift, cid }: any) {
  const total = rows.reduce((s: number, r: Pt) => s + r[0], 0);
  const data = antigens.map((name) => {
    const d: any = { name };
    rows.forEach((r: Pt, i: number) => { d["r" + i] = r[0]; });
    return d;
  });
  const tick = (p: any) => {
    const x = p.x + labelShift;
    const y = p.y + labelGap;
    return (
      <text x={x} y={y} transform={`rotate(-90 ${x} ${y})`} textAnchor="end" dominantBaseline="central" fontSize={18.4} fontFamily={FONT} fill="#000">
        {p.payload.value}
      </text>
    );
  };
  return (
    <div style={{ position: "absolute", left, top }}>
      <BarChart width={width} height={height + 120} data={data} margin={{ top: 0, right: 0, bottom: 0, left: 0 }} barCategoryGap={0} barGap={0} id={cid}>
        <XAxis dataKey="name" type="category" interval={0} height={120} tickSize={tickLen} tickMargin={0} tickLine={{ stroke: "#333", strokeWidth: 1.5 }} axisLine={{ stroke: "#222", strokeWidth: 1.5 }} tick={tick} />
        <YAxis hide type="number" domain={[0, total]} reversed allowDataOverflow />
        {rows.map((r: Pt, i: number) => (
          <Bar key={i} dataKey={"r" + i} stackId="h" isAnimationActive={false} fill="#006080">
            {antigens.map((_, c) => {
              const col = clrColor(r[c + 1] / 10);
              return <Cell key={c} fill={col} stroke={col} strokeWidth={0.5} />;
            })}
          </Bar>
        ))}
      </BarChart>
      <div style={{ position: "absolute", left: -1, top: -1, width: width, height: height, borderLeft: "1.5px solid #333", borderRight: "1.5px solid #222", borderTop: "1.5px solid #888", pointerEvents: "none" }} />
    </div>
  );
}

const toXY = (a: Pt[]) => a.map(([x, y]) => ({ x, y }));

function Dot(stroke: string) {
  return (p: any) => <circle cx={p.cx} cy={p.cy} r={4.6} fill={p.fill} stroke={stroke} strokeWidth={0.7} strokeOpacity={0.75} />;
}

function Panel({ box, xDomain, yDomain, xTicks, yTicks, xLabel, yLabel, title, titleX, titleY, sr, sa, pb }: any) {
  const AXW = 44, AXH = 48;
  const [L, R, T, B] = box;
  const W = R - L, H = B - T;
  const axis = { stroke: "#000", strokeWidth: 1.5 };
  const tickFont = { fontSize: FS, fill: "#000", fontFamily: FONT };
  return (
    <>
      <div style={{ position: "absolute", left: titleX - 150, width: 300, top: titleY - 11, lineHeight: "22px", textAlign: "center", fontSize: FS, fontFamily: FONT, color: "#000" }}>{title}</div>
      <div style={{ position: "absolute", left: L - AXW, top: T }}>
        <ScatterChart width={W + AXW + 4} height={H + AXH} margin={{ top: 0, right: 4, bottom: 0, left: 0 }}>
          <XAxis type="number" dataKey="x" domain={xDomain} ticks={xTicks} interval={0} height={AXH} tickSize={4} tickMargin={3} axisLine={axis} tickLine={axis} tick={tickFont}
            label={{ value: xLabel, position: "insideBottom", offset: 9, fontSize: FS, fill: "#000", fontFamily: FONT }} allowDataOverflow />
          <YAxis type="number" dataKey="y" domain={yDomain} ticks={yTicks} interval={0} width={AXW} tickSize={4} tickMargin={1} axisLine={axis} tickLine={axis} tick={tickFont}
            label={{ value: yLabel, angle: -90, position: "insideLeft", offset: 15, fontSize: FS, fill: "#000", fontFamily: FONT, style: { textAnchor: "middle" } }} allowDataOverflow />
          <Scatter name="SA-Bmem cells" data={toXY(sa)} fill={SA_FILL} shape={Dot("#3f6f78")} isAnimationActive={false} />
          <Scatter name="SR-Bmem cells" data={toXY(sr)} fill={SR_FILL} shape={Dot("#24484a")} isAnimationActive={false} />
          <Scatter name="Plasmablasts" data={toXY(pb)} fill={PB_FILL} shape={Dot("#6e2c1e")} isAnimationActive={false} />
        </ScatterChart>
      </div>
    </>
  );
}

function KeyRow({ y, color, children }: any) {
  return (
    <>
      <svg style={{ position: "absolute", left: 1413, top: y - 7 }} width={14} height={14}><circle cx={7} cy={7} r={6.8} fill={color} /></svg>
      <div style={{ position: "absolute", left: 1433, top: y - 12, lineHeight: "24px", fontSize: FS, fontFamily: FONT, color: "#000", whiteSpace: "nowrap" }}>{children}</div>
    </>
  );
}
const Sub = ({ children }: any) => <sub style={{ fontSize: 11.5, lineHeight: 0, verticalAlign: -5 }}>{children}</sub>;

function KeyBlock({ y0 }: { y0: number }) {
  return (
    <>
      <KeyRow y={y0} color={SR_FILL}>S<Sub>R</Sub>-B<Sub>mem</Sub> cells</KeyRow>
      <KeyRow y={y0 + 23} color={SA_FILL}>S<Sub>A</Sub>-B<Sub>mem</Sub> cells</KeyRow>
      <KeyRow y={y0 + 46} color={PB_FILL}>Plasmablasts</KeyRow>
    </>
  );
}

function Letter({ x, base, t }: any) {
  return <div style={{ position: "absolute", left: x, top: base - 16, lineHeight: "14px", fontSize: 27, fontWeight: 700, fontFamily: FONT, color: "#000" }}>{t}</div>;
}

function ColorBar() {
  const data = [{ name: "CLR counts", top: 6 }];
  return (
    <div style={{ position: "absolute", left: 849, top: 108 }}>
      <BarChart width={38} height={198} data={data} margin={{ top: 0, right: 0, bottom: 0, left: 0 }} barCategoryGap={0}>
        <defs>
          <linearGradient id="clrGrad" x1="0" y1="0" x2="0" y2="1">
            <stop offset="0" stopColor={clrColor(6)} />
            <stop offset={2.5 / 6} stopColor={clrColor(3.5)} />
            <stop offset="1" stopColor={clrColor(0)} />
          </linearGradient>
        </defs>
        <XAxis dataKey="name" hide />
        <YAxis hide type="number" domain={[0, 6]} />
        <Bar dataKey="top" fill="url(#clrGrad)" isAnimationActive={false} />
      </BarChart>
    </div>
  );
}

const txt = (left: number, top: number, s: string) => (
  <div style={{ position: "absolute", left, top: top - 11, lineHeight: "22px", fontSize: FS, fontFamily: FONT, color: "#000" }}>{s}</div>
);

export default function App() {
  return (
    <div style={{ position: "absolute", left: 0, top: 0, width: 1544, height: 1800, background: "#fff", fontFamily: FONT, overflow: "hidden" }}>
      <Letter x={0} base={16} t="a" />
      <Letter x={450} base={1143} t="b" />
      <Letter x={1007} base={19} t="c" />
      <Letter x={1007} base={1123} t="d" />
      <Letter x={1007} base={1499} t="e" />

      <Heatmap cid="hmA" rows={[...mainTopRows, ...mainBodyRows]} left={49} top={33} width={351} height={1293} tickLen={17} labelGap={8} labelShift={0} />
      <Heatmap cid="hmZ" rows={insetRows} left={487} top={33} width={350} height={865} tickLen={15} labelGap={5} labelShift={5} />
      <Heatmap cid="hmB" rows={clusterRows} left={487} top={1153} width={350} height={90} tickLen={15} labelGap={4} labelShift={3} />

      <svg style={{ position: "absolute", left: 0, top: 0, pointerEvents: "none" }} width={1544} height={1000}>
        <line x1={400} y1={33} x2={487} y2={33} stroke="#888" strokeWidth={1.5} />
        <line x1={400} y1={110} x2={487} y2={896} stroke="#111" strokeWidth={1.4} />
      </svg>

      <ColorBar />
      {txt(848, 64, "CLR")}
      {txt(848, 87, "counts")}
      {txt(903, 108, "6")}
      {txt(906, 311, "0")}

      <Panel box={[1034, 1383, 53, 291]} xDomain={[-0.287, 6.4]} yDomain={[-0.29, 6.04]} xTicks={[0, 2, 4, 6]} yTicks={[0, 2, 4]} xLabel="S2-PE (CLR counts)" yLabel="S2-APC (CLR counts)" title="S2 (r=0.96)" titleX={1200} titleY={36} sr={c1SR} sa={c1SA} pb={c1PB} />
      <Panel box={[1037, 1389, 383, 621]} xDomain={[-0.28, 5.86]} yDomain={[-0.207, 4.27]} xTicks={[0, 2, 4]} yTicks={[0, 1, 2, 3, 4]} xLabel="RBD-PE (CLR counts)" yLabel="RBD-APC (CLR counts)" title="RBD (r=0.79)" titleX={1205} titleY={364} sr={c2SR} sa={c2SA} pb={c2PB} />
      <Panel box={[1039, 1389, 714, 952]} xDomain={[-0.27, 5.71]} yDomain={[-0.23, 4.73]} xTicks={[0, 2, 4]} yTicks={[0, 1, 2, 3, 4]} xLabel="S1-PE (CLR counts)" yLabel="S1-APC (CLR counts)" title="S1 (r=0.89)" titleX={1206} titleY={697} sr={c3SR} sa={c3SA} pb={c3PB} />
      <Panel box={[1040, 1389, 1138, 1375]} xDomain={[-0.19, 4.28]} yDomain={[-0.21, 4.73]} xTicks={[0, 1, 2, 3, 4]} yTicks={[0, 1, 2, 3, 4]} xLabel="RBD-APC (CLR counts)" yLabel="S1-APC (CLR counts)" title="RBD vs. S1 (r=0.39)" titleX={1214} titleY={1123} sr={dSR} sa={dSA} pb={dPB} />
      <Panel box={[1040, 1389, 1521, 1757]} xDomain={[-0.19, 4.3]} yDomain={[-0.265, 5.99]} xTicks={[0, 1, 2, 3, 4]} yTicks={[0, 2, 4]} xLabel="RBD-APC (CLR counts)" yLabel="S2-APC (CLR counts)" title="RBD vs. S2 (r=0.04)" titleX={1221} titleY={1506} sr={eSR} sa={eSA} pb={ePB} />

      <KeyBlock y0={32} />
      <KeyBlock y0={1127} />
    </div>
  );
}
